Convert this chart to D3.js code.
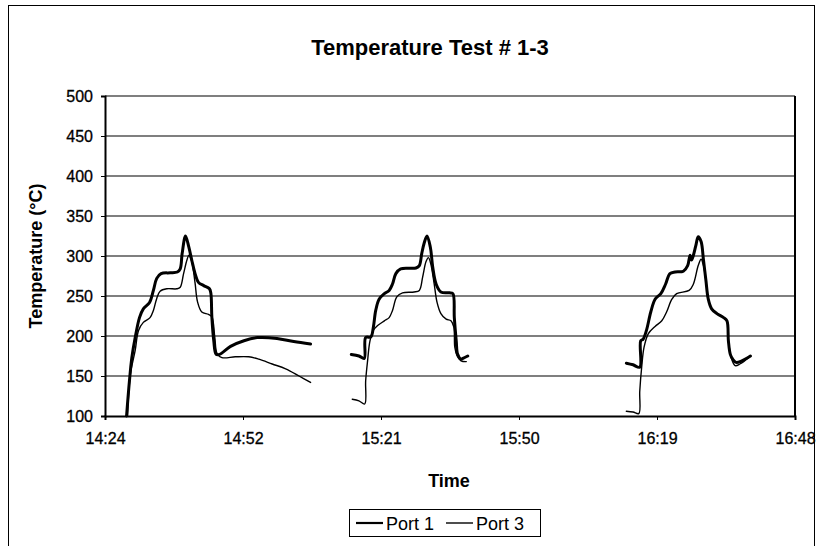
<!DOCTYPE html>
<html>
<head>
<meta charset="utf-8">
<script src="https://cdn.jsdelivr.net/npm/d3@7"></script>
<style>
  html, body { margin: 0; padding: 0; background: #fff; }
  svg { display: block; font-family: "Liberation Sans", Arial, sans-serif; }
</style>
</head>
<body>
<svg id="chart" width="823" height="546"></svg>
<script>
// Time is in minutes since midnight; temperature in °C.
const xTicks = [864, 892.8, 921.6, 950.4, 979.2, 1008];
const yTicks = [100, 150, 200, 250, 300, 350, 400, 450, 500];
const seriesNames = ["Port 1", "Port 3"];

// Port 1, three heating runs
const port1Run1 = [
  [868.5, 100], [869.1, 144], [869.6, 173], [870.3, 198], [871.2, 223], [872.0, 234],
  [873.3, 242], [874.1, 257], [874.8, 272], [875.7, 278], [877.6, 279], [879.1, 280],
  [879.7, 284], [880.1, 303], [880.8, 325], [881.5, 311], [882.1, 295], [882.8, 278],
  [883.5, 267], [884.6, 263], [885.8, 259], [886.1, 253], [886.3, 224], [886.7, 194],
  [887.2, 177], [887.9, 177], [890.2, 187], [893.0, 194], [895.8, 198], [899.9, 197],
  [903.4, 193], [906.9, 190]
];
const port1Run2 = [
  [915.4, 177], [917.0, 175], [918.1, 172], [918.4, 198], [919.5, 199], [920.0, 211],
  [920.5, 232], [921.2, 246], [922.3, 253], [923.3, 257], [924.0, 265], [924.7, 278],
  [925.7, 284], [928.9, 285], [929.6, 288], [930.1, 303], [930.6, 316], [931.2, 325],
  [931.9, 311], [932.4, 286], [933.1, 265], [934.1, 255], [935.9, 254], [936.6, 253],
  [936.9, 223], [937.3, 194], [937.6, 177], [938.3, 171], [938.7, 172], [939.7, 175]
];
const port1Run3 = [
  [972.8, 166], [974.2, 164], [975.6, 161], [975.8, 194], [976.3, 196], [977.0, 207],
  [977.9, 230], [978.8, 246], [980.0, 253], [981.0, 265], [981.9, 278], [983.0, 280],
  [984.7, 281], [985.6, 288], [986.1, 301], [986.4, 295], [986.8, 301], [987.3, 313],
  [987.8, 324], [988.4, 318], [988.9, 295], [989.4, 270], [989.9, 246], [990.6, 234],
  [991.7, 228], [993.1, 223], [993.8, 219], [994.1, 194], [994.5, 177], [995.0, 171],
  [995.7, 167], [996.9, 169], [998.7, 175]
];

// Port 3, three heating runs
const port3Run1 = [
  [868.7, 100], [869.3, 152], [870.3, 182], [871.0, 207], [872.0, 217], [873.4, 223],
  [874.1, 232], [874.8, 247], [875.5, 256], [876.9, 259], [879.0, 259], [879.7, 261],
  [880.4, 278], [881.1, 295], [881.5, 301], [882.1, 293], [882.8, 266], [883.3, 243],
  [884.2, 230], [885.6, 227], [886.3, 224], [886.9, 199], [887.4, 178], [888.4, 173],
  [891.2, 174], [894.0, 174], [896.1, 171], [898.9, 165], [901.7, 159], [904.5, 150],
  [906.9, 142]
];
const port3Run2 = [
  [915.6, 121], [917.0, 119], [918.2, 115], [918.4, 144], [918.8, 169], [919.3, 194],
  [920.0, 207], [920.9, 213], [922.3, 219], [923.3, 223], [924.0, 232], [924.9, 249],
  [926.1, 254], [928.5, 255], [929.6, 257], [930.3, 274], [931.0, 293], [931.5, 298],
  [932.0, 290], [932.7, 265], [933.3, 242], [934.1, 228], [935.2, 221], [936.2, 219],
  [936.8, 211], [937.0, 186], [937.5, 175], [938.3, 169], [939.4, 168]
];
const port3Run3 = [
  [972.8, 106], [974.2, 105], [975.4, 103], [975.6, 131], [976.0, 161], [976.5, 186],
  [977.4, 203], [978.8, 212], [980.2, 219], [981.2, 230], [982.3, 246], [983.3, 253],
  [985.9, 257], [986.8, 265], [987.8, 288], [988.4, 296], [988.9, 288], [989.4, 270],
  [989.9, 246], [990.6, 234], [991.7, 228], [993.1, 223], [993.8, 219], [994.1, 194],
  [994.7, 173], [995.5, 163], [996.5, 165], [998.3, 173]
];

const svg = d3.select("#chart");

// Outer chart frame
svg.append("rect")
  .attr("x", 8.5).attr("y", 5.5).attr("width", 806).attr("height", 560)
  .attr("fill", "none").attr("stroke", "#000").attr("stroke-width", 1);

const plot = { left: 105, right: 795, top: 96, bottom: 416 };

const x = d3.scaleLinear().domain([864, 1008]).range([plot.left, plot.right]);
const y = d3.scaleLinear().domain([100, 500]).range([plot.bottom, plot.top]);

function fmtTime(m) {
  const h = Math.floor(m / 60);
  const mm = Math.floor(m - h * 60 + 1e-6);
  return h + ":" + String(mm).padStart(2, "0");
}

// Horizontal gridlines
svg.append("g")
  .selectAll("line")
  .data(yTicks.slice(1))
  .join("line")
  .attr("x1", plot.left).attr("x2", plot.right)
  .attr("y1", d => y(d)).attr("y2", d => y(d))
  .attr("stroke", "#000").attr("stroke-width", 1.2);

// Plot area border (right side)
svg.append("line")
  .attr("x1", plot.right).attr("x2", plot.right)
  .attr("y1", plot.top).attr("y2", plot.bottom)
  .attr("stroke", "#000").attr("stroke-width", 2);

// Y axis
const yAxis = svg.append("g")
  .attr("transform", `translate(${plot.left},0)`)
  .call(d3.axisLeft(y).tickValues(yTicks).tickSize(4).tickPadding(8));
yAxis.select(".domain").attr("stroke-width", 2);
yAxis.selectAll("text").attr("font-size", 16).attr("fill", "#000")
  .attr("stroke", "#000").attr("stroke-width", 0.3);

// X axis
const xAxis = svg.append("g")
  .attr("transform", `translate(0,${plot.bottom})`)
  .call(d3.axisBottom(x).tickValues(xTicks).tickFormat(fmtTime).tickSize(4).tickPadding(13));
xAxis.select(".domain").attr("stroke-width", 2);
xAxis.selectAll("text").attr("font-size", 16).attr("fill", "#000")
  .attr("stroke", "#000").attr("stroke-width", 0.3);

// Titles
svg.append("text")
  .attr("x", 430).attr("y", 55)
  .attr("text-anchor", "middle")
  .attr("font-size", 22).attr("font-weight", "bold")
  .text("Temperature Test # 1-3");

svg.append("text")
  .attr("x", 449).attr("y", 487)
  .attr("text-anchor", "middle")
  .attr("font-size", 18).attr("font-weight", "bold")
  .text("Time");

svg.append("text")
  .attr("transform", "translate(42,256) rotate(-90)")
  .attr("text-anchor", "middle")
  .attr("font-size", 18).attr("font-weight", "bold")
  .text("Temperature (°C)");

// Series lines
const line = d3.line()
  .x(d => x(d[0])).y(d => y(d[1]))
  .curve(d3.curveCatmullRom.alpha(0.5));

const styles = { "Port 1": 3, "Port 3": 1.4 };
const runs = [
  { name: "Port 3", data: port3Run1 }, { name: "Port 3", data: port3Run2 }, { name: "Port 3", data: port3Run3 },
  { name: "Port 1", data: port1Run1 }, { name: "Port 1", data: port1Run2 }, { name: "Port 1", data: port1Run3 }
];
svg.append("g")
  .selectAll("path")
  .data(runs)
  .join("path")
  .attr("d", d => line(d.data))
  .attr("fill", "none")
  .attr("stroke", "#000")
  .attr("stroke-width", d => styles[d.name])
  .attr("stroke-linejoin", "round")
  .attr("stroke-linecap", "round");

// Legend
const legend = svg.append("g").attr("transform", "translate(349,509)");
legend.append("rect")
  .attr("x", 0.5).attr("y", 0.5).attr("width", 191).attr("height", 27)
  .attr("fill", "#fff").attr("stroke", "#000").attr("stroke-width", 1);
const items = legend.selectAll("g.item")
  .data(seriesNames)
  .join("g")
  .attr("class", "item")
  .attr("transform", (d, i) => `translate(${7 + i * 90},14)`);
items.append("line")
  .attr("x1", 0).attr("x2", 27).attr("y1", 0).attr("y2", 0)
  .attr("stroke", "#000").attr("stroke-width", d => d === "Port 1" ? 2.2 : 1.4);
items.append("text")
  .attr("x", 30).attr("y", 6.5)
  .attr("font-size", 18)
  .text(d => d);
</script>
</body>
</html>
